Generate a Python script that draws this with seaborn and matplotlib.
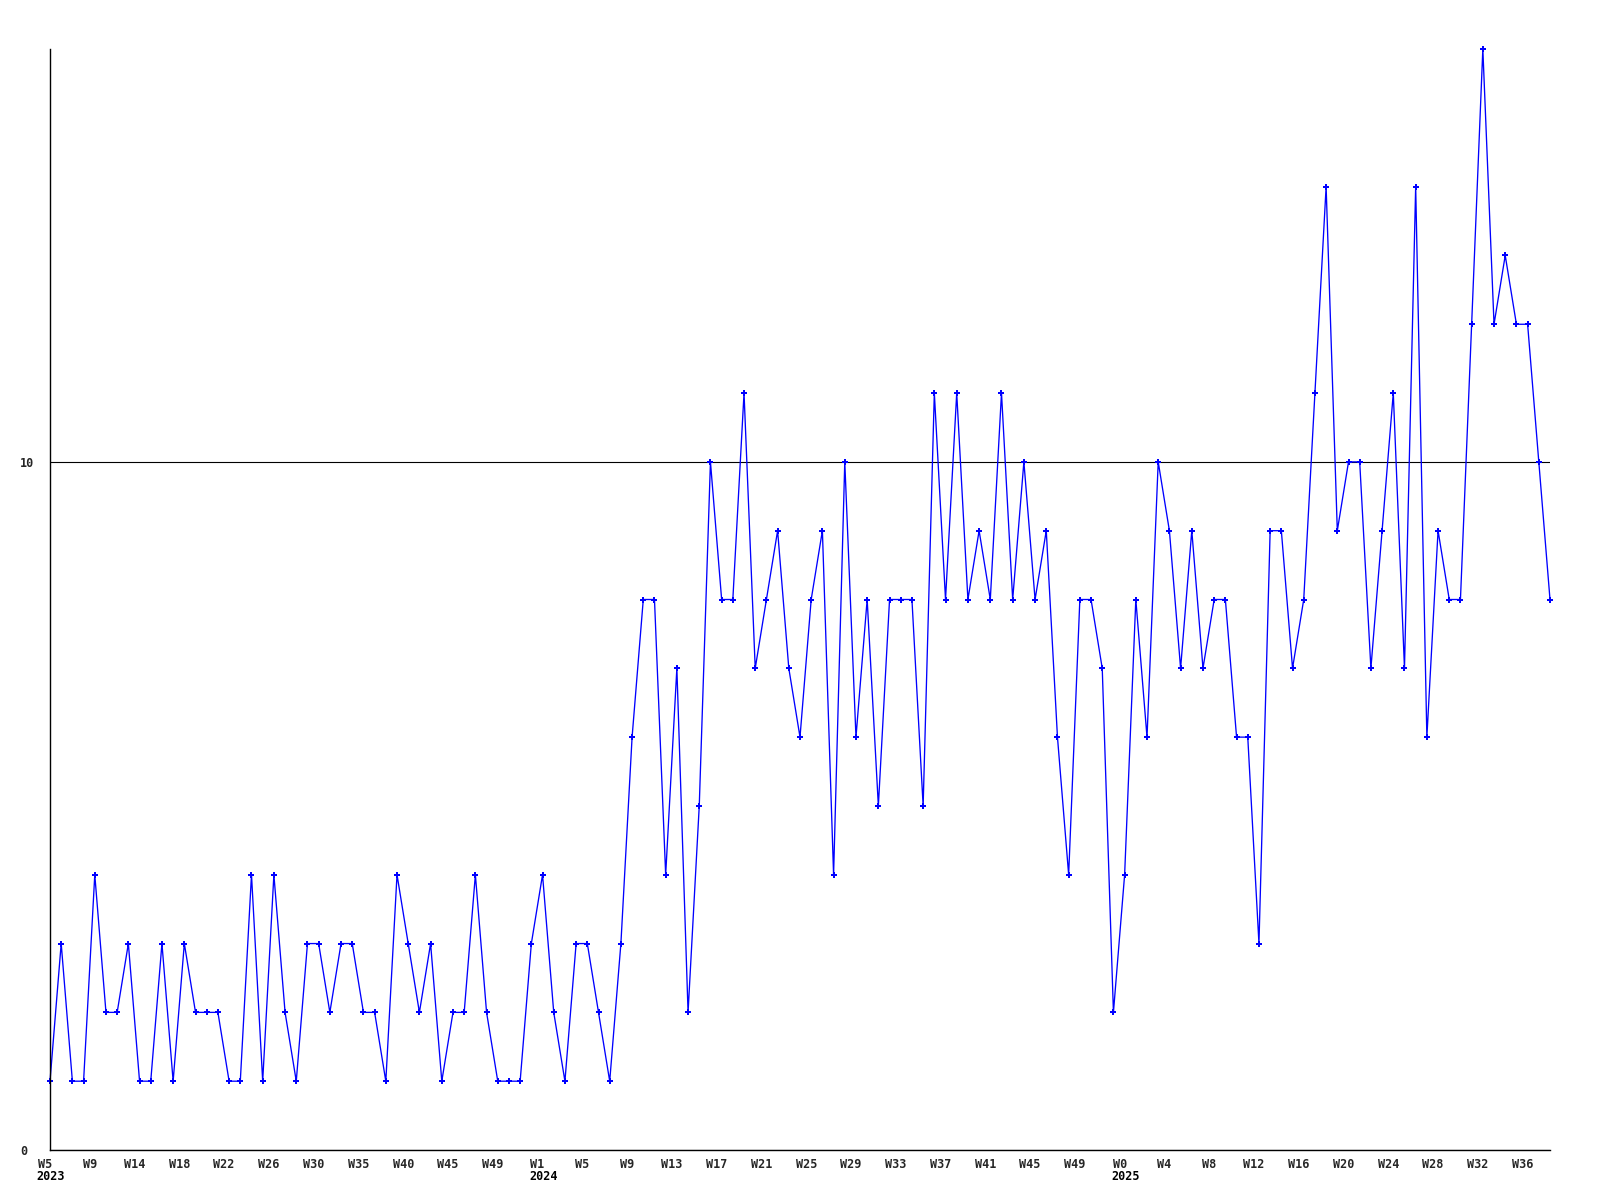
import matplotlib
matplotlib.use("Agg")
import matplotlib.pyplot as plt
import matplotlib.transforms as mtransforms
import seaborn as sns
import pandas as pd
import numpy as np

# weekly values, starting at 2023 W5
values = [1, 3, 1, 1, 4, 2, 2, 3, 1, 1, 3, 1, 3, 2, 2, 2, 1, 1, 4, 1,
          4, 2, 1, 3, 3, 2, 3, 3, 2, 2, 1, 4, 3, 2, 3, 1, 2, 2, 4, 2,
          1, 1, 1, 3, 4, 2, 1, 3, 3, 2, 1, 3, 6, 8, 8, 4, 7, 2, 5, 10,
          8, 8, 11, 7, 8, 9, 7, 6, 8, 9, 4, 10, 6, 8, 5, 8, 8, 8, 5, 11,
          8, 11, 8, 9, 8, 11, 8, 10, 8, 9, 6, 4, 8, 8, 7, 2, 4, 8, 6, 10,
          9, 7, 9, 7, 8, 8, 6, 6, 3, 9, 9, 7, 8, 11, 14, 9, 10, 10, 7, 9,
          11, 7, 14, 6, 9, 8, 8, 12, 16, 12, 13, 12, 12, 10, 8]

week_labels = ["W5", "W9", "W14", "W18", "W22", "W26", "W30", "W35", "W40", "W45", "W49",
               "W1", "W5", "W9", "W13", "W17", "W21", "W25", "W29", "W33", "W37", "W41",
               "W45", "W49", "W0", "W4", "W8", "W12", "W16", "W20", "W24", "W28", "W32", "W36"]
label_step = 4
year_labels = ["2023", "2024", "2025"]
year_label_pos = [0, 11, 24]   # index into week_labels

y_ticks = [0, 10]
y_max = 16

df = pd.DataFrame({"i": np.arange(len(values)), "v": values})

sns.set_style("white")
plt.rcParams["font.family"] = ["DejaVu Sans Mono", "DejaVu Sans"]

fig = plt.figure(figsize=(16, 12), dpi=100)
ax = fig.add_axes([50 / 1600, 50 / 1200, 1500 / 1600, 1101 / 1200])

sns.lineplot(data=df, x="i", y="v", ax=ax, color="#0000FF", linewidth=0.95,
             marker="P", markersize=4.2, markeredgewidth=0, markerfacecolor="#0000FF",
             clip_on=False)

ax.set_xlim(0, len(values) - 1)
ax.set_ylim(0, y_max)
ax.set_xlabel("")
ax.set_ylabel("")

for s in ["top", "right"]:
    ax.spines[s].set_visible(False)
for s in ["left", "bottom"]:
    ax.spines[s].set_color("black")
    ax.spines[s].set_linewidth(1.0)

ax.set_yticks(y_ticks)
ax.set_yticklabels([str(t) for t in y_ticks], fontsize=8.5, fontweight="bold", ha="left")
ax.tick_params(axis="y", length=0, pad=21.6)
ax.yaxis.grid(True, color="black", linewidth=0.8)
ax.xaxis.grid(False)

xt = [k * label_step for k in range(len(week_labels))]
ax.set_xticks(xt)
ax.set_xticklabels(week_labels, fontsize=8.5, fontweight="bold")
ax.tick_params(axis="x", length=0, pad=5.5)
off = mtransforms.ScaledTranslation(-5 / 100, 0, fig.dpi_scale_trans)
for lab in ax.get_xticklabels():
    lab.set_transform(lab.get_transform() + off)

trans = ax.get_xaxis_transform() + mtransforms.ScaledTranslation(1 / 100, 0, fig.dpi_scale_trans)
for yl, p in zip(year_labels, year_label_pos):
    ax.text(xt[p], -(1176.5 - 1150) / 1101, yl, transform=trans, ha="center", va="center",
            fontsize=8.5, fontweight="bold", color="black")

fig.savefig("out.png", dpi=100, facecolor="white")
